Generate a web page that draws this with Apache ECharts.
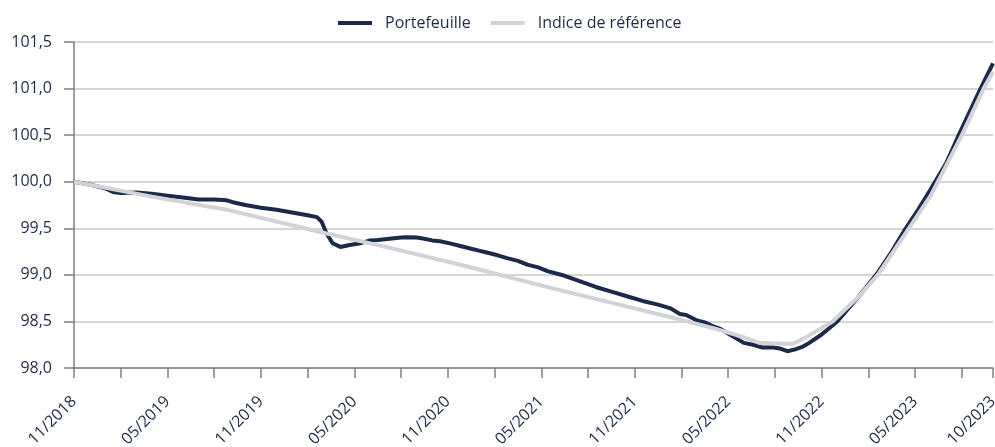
<!DOCTYPE html>
<html>
<head>
<meta charset="utf-8">
<script src="https://cdn.jsdelivr.net/npm/echarts@6/dist/echarts.min.js"></script>
<style>html,body{margin:0;padding:0;background:#fff}#c{width:995px;height:447px}</style>
</head>
<body>
<div id="c"></div>
<script>
// Months counted from 11/2018 (0) to 10/2023 (59)
const startYear = 2018, startMonth = 11;
const tickMonths = [0,3,6,9,12,15,18,21,24,27,30,33,36,39,42,45,48,51,54,57,59];
const labelMonths = [0,6,12,18,24,30,36,42,48,54,59];
const yTicks = [98.0, 98.5, 99.0, 99.5, 100.0, 100.5, 101.0, 101.5];

const portMonths = [0,1,2,2.5,3,4,5,6,7,8,9,9.8,10.2,11,12,13,14,15,15.6,15.9,16.2,16.6,17.1,17.7,18.4,18.8,19.0,19.5,20.1,21,21.4,22,22.4,23,23.5,24.2,24.8,25.5,26,26.5,27.2,27.8,28.5,29.1,29.8,30.4,31.5,32.5,33.5,34.5,35.5,36.5,37.5,38.3,38.9,39.3,40.0,40.5,41.0,41.5,42.1,42.6,43.0,43.6,44.2,44.9,45.3,45.8,46.3,46.8,47.2,48,49,50.4,51.5,52.5,53.4,54.2,55,56,56.8,57.5,58.2,59];
const portValues = [100.00,99.97,99.93,99.89,99.88,99.885,99.87,99.85,99.83,99.81,99.81,99.80,99.78,99.75,99.72,99.70,99.67,99.64,99.62,99.57,99.45,99.34,99.30,99.32,99.34,99.36,99.37,99.375,99.385,99.40,99.405,99.40,99.39,99.37,99.36,99.335,99.31,99.28,99.26,99.24,99.21,99.18,99.15,99.11,99.08,99.04,98.99,98.93,98.87,98.82,98.77,98.72,98.68,98.64,98.58,98.57,98.51,98.49,98.45,98.42,98.36,98.31,98.27,98.25,98.22,98.22,98.21,98.18,98.20,98.23,98.27,98.36,98.50,98.77,99.00,99.25,99.50,99.70,99.92,100.20,100.50,100.75,101.00,101.27];

const idxMonths = [0,5,9.8,15.8,20,25,30.6,35,38.9,41,43,44,45.7,46.2,47.2,48.7,50.4,51.6,53.6,55,57,58.4,59];
const idxValues = [100.00,99.84,99.70,99.46,99.30,99.10,98.86,98.68,98.52,98.43,98.33,98.27,98.26,98.26,98.35,98.50,98.77,99.00,99.50,99.85,100.50,101.00,101.18];

function monthLabel(m){
  const total = startMonth - 1 + Math.round(m);
  const y = startYear + Math.floor(total / 12);
  const mo = (total % 12) + 1;
  return (mo < 10 ? '0' : '') + mo + '/' + y;
}
const zip = (a, b) => a.map((x, i) => [x, b[i]]);

const txt = '#1e2b4a';
const axisGray = '#7f7f7f';
const chart = echarts.init(document.getElementById('c'));
chart.setOption({
  animation: false,
  textStyle: { fontFamily: 'Open Sans' },
  legend: {
    top: 10, left: 333,
    icon: 'rect',
    itemWidth: 34, itemHeight: 4, itemGap: 20,
    textStyle: { fontSize: 16, color: txt, fontFamily: 'Open Sans', padding: [0, 0, 0, 8] },
    data: ['Portefeuille', 'Indice de référence']
  },
  grid: { left: 74, right: 2, top: 42, bottom: 79, containLabel: false, outerBoundsMode: 'none' },
  xAxis: {
    type: 'value', min: 0, max: 59,
    axisLine: { show: true, lineStyle: { color: axisGray, width: 1.5 } },
    axisTick: { show: true, inside: false, length: 10, customValues: tickMonths, lineStyle: { color: axisGray, width: 1.5 } },
    axisLabel: { customValues: labelMonths, rotate: 45, margin: 31, fontSize: 16, color: txt, formatter: v => monthLabel(v) },
    splitLine: { show: false }
  },
  yAxis: {
    type: 'value', min: 98, max: 101.5, interval: 0.5,
    axisLine: { show: true, lineStyle: { color: axisGray, width: 1.5 } },
    axisTick: { show: true, inside: false, length: 10, lineStyle: { color: axisGray, width: 1.5 } },
    axisLabel: { fontSize: 16, color: txt, margin: 22, formatter: v => v.toFixed(1).replace('.', ',') },
    splitLine: { lineStyle: { color: '#c9c9c9', width: 1.5 } }
  },
  series: [
    { name: 'Portefeuille', type: 'line', data: zip(portMonths, portValues), showSymbol: false, symbol: 'none',
      lineStyle: { color: '#1b2a4a', width: 4 }, itemStyle: { color: '#1b2a4a' } },
    { name: 'Indice de référence', type: 'line', data: zip(idxMonths, idxValues), showSymbol: false, symbol: 'none',
      lineStyle: { color: '#d1d3d9', width: 4 }, itemStyle: { color: '#d1d3d9' } }
  ]
});
</script>
</body>
</html>
